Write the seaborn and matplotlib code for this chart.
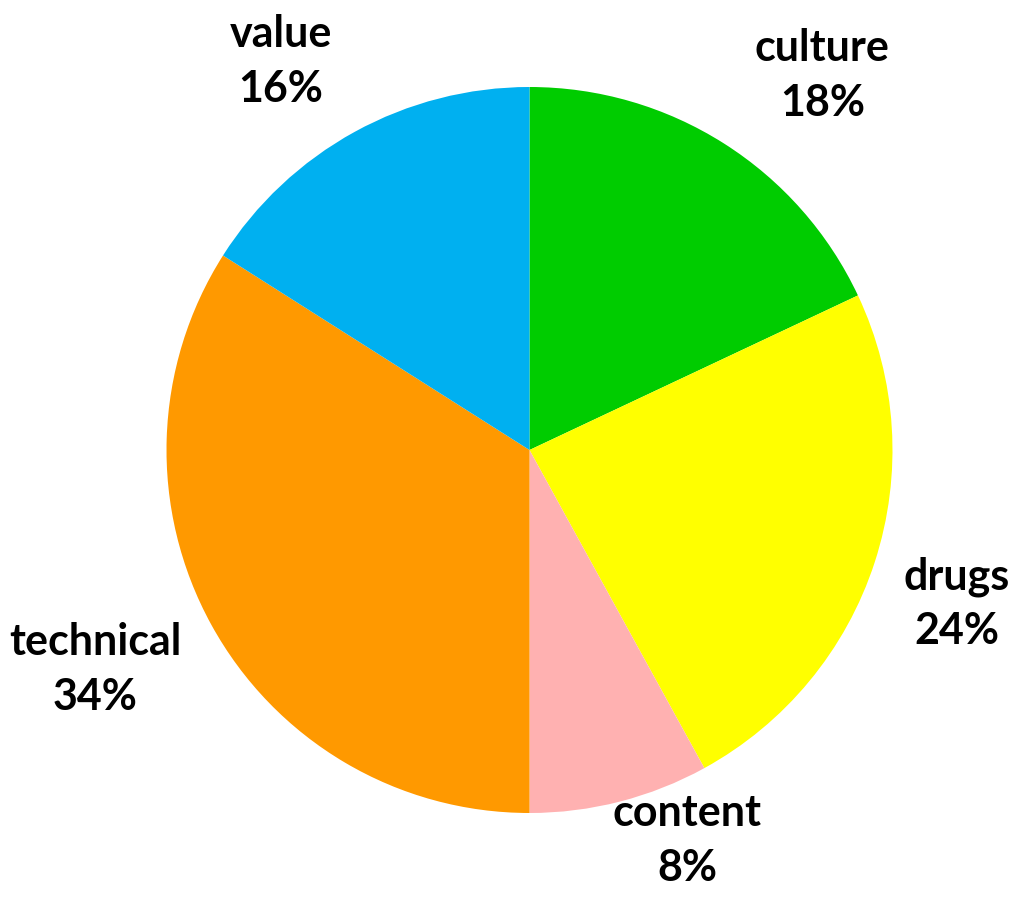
import numpy as np
import matplotlib
matplotlib.use("Agg")
import matplotlib.pyplot as plt
import seaborn as sns

categories = ["culture", "drugs", "content", "technical", "value"]
values = [18, 24, 8, 34, 16]
colors = ["#00CC00", "#FFFF00", "#FFB1B1", "#FF9900", "#00B0F0"]

# label layout tweaks (distance in radii, angle offset in degrees)
label_dist = [1.31, 1.25, 1.16, 1.34, 1.27]
label_dang = [-5.6, -1.8, 7.6, -2.0, 3.8]

sns.set_theme(style="white")
plt.rcParams['font.family'] = ['Lato', 'DejaVu Sans']

W, H, DPI = 1014, 897, 100
fig = plt.figure(figsize=(W / DPI, H / DPI), dpi=DPI)
ax = fig.add_axes([0, 0, 1, 1])

cx, cy, R = 529.5, 450.0, 363.0
wedges, _ = ax.pie(values, colors=colors, startangle=90, counterclock=False,
                   radius=1.0, wedgeprops=dict(linewidth=0), frame=False)

for w, cat, v, d, da in zip(wedges, categories, values, label_dist, label_dang):
    mid = np.deg2rad((w.theta1 + w.theta2) / 2 + da)
    ax.text(d * np.cos(mid), d * np.sin(mid), f"{cat}\n{v}%",
            ha="center", va="center", fontsize=31, fontweight="bold",
            color="black", linespacing=1.45)

ax.set_xlim(-cx / R, (W - cx) / R)
ax.set_ylim(-(H - cy) / R, cy / R)
ax.set_aspect("auto")
ax.axis("off")

fig.savefig("out.png", dpi=DPI, facecolor="white")
